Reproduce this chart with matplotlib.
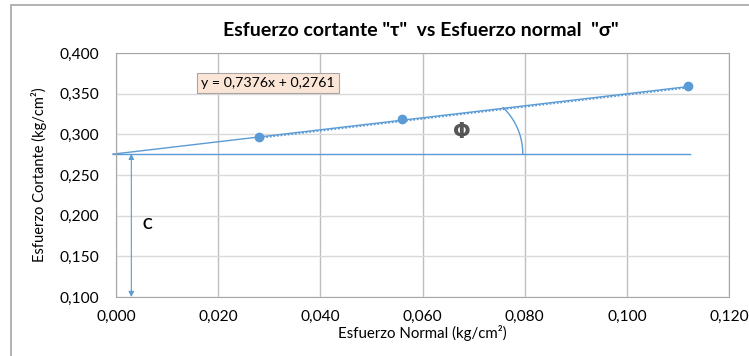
import numpy as np
import matplotlib.pyplot as plt
from matplotlib.patches import Rectangle

plt.rcParams['font.family'] = ['Lato', 'DejaVu Sans']

# datos de ensayo
esfuerzo_normal = [0.028, 0.056, 0.112]
esfuerzo_cortante = [0.297, 0.319, 0.359]
pendiente = 0.7376
cohesion = 0.2761

x_ticks = [0.0, 0.02, 0.04, 0.06, 0.08, 0.10, 0.12]
y_ticks = [0.10, 0.15, 0.20, 0.25, 0.30, 0.35, 0.40]

azul = '#5B9BD5'


def coma(v, pos=None):
    return f"{v:.3f}".replace('.', ',')


fig = plt.figure(figsize=(7.49, 3.56), dpi=100)
fig.patches.append(Rectangle((11 / 749, -0.5), 2, 0.5 + 351 / 356, transform=fig.transFigure,
                             fill=False, edgecolor='#A6A6A6', linewidth=1.2, zorder=0))
ax = fig.add_axes([116 / 749, 59 / 356, 613 / 749, 244 / 356])

ax.set_xlim(0, 0.12)
ax.set_ylim(0.1, 0.4)
ax.set_xticks(x_ticks)
ax.set_yticks(y_ticks)
ax.xaxis.set_major_formatter(coma)
ax.yaxis.set_major_formatter(coma)
ax.tick_params(length=0, labelsize=11.2)
ax.tick_params(axis='y', pad=12)
ax.tick_params(axis='x', pad=9)
ax.grid(axis='x', color='#BFBFBF', linewidth=1)
ax.grid(axis='y', color='#D9D9D9', linewidth=1)
ax.set_axisbelow(True)
for s in ax.spines.values():
    s.set_color('#A6A6A6')

# linea de tendencia (punteada) y linea de ajuste
xt = np.array([min(esfuerzo_normal), max(esfuerzo_normal)])
ax.plot(xt, pendiente * xt + cohesion - 0.0012, color=azul, linestyle=(0, (1, 1)), linewidth=1.3)
xl = np.array([-0.0006, max(esfuerzo_normal)])
ax.plot(xl, pendiente * xl + cohesion, color=azul, linewidth=1, clip_on=False)
ax.plot(esfuerzo_normal, esfuerzo_cortante, 'o', color=azul, markersize=6, zorder=5)

# horizontal de la cohesion
ax.plot([-0.0006, 0.1124], [cohesion, cohesion], color=azul, linewidth=1, clip_on=False)

# flecha C
ax.annotate('', xy=(0.003, 0.1), xytext=(0.003, cohesion),
            arrowprops=dict(arrowstyle='<|-|>', color=azul, lw=0.8, mutation_scale=8,
                            shrinkA=0, shrinkB=0))
ax.text(0.0061, 0.1885, 'C', fontsize=10.5, fontweight='bold', ha='center', va='center')

# arco del angulo
cx, rx, ry = 0.0671, 0.01253, 0.0787
t = np.radians(np.linspace(0, 46, 50))
ax.plot(cx + rx * np.cos(t), cohesion + ry * np.sin(t), color=azul, linewidth=1)
ax.text(0.0677, 0.3025, 'Φ', fontsize=15, fontweight='bold', color='#3A3A3A', alpha=0.85,
        ha='center', va='center', family=['DejaVu Sans'])

# ecuacion
ax.text(0.02976, 0.3631, 'y = 0,7376x + 0,2761', fontsize=10.2, ha='center', va='center',
        bbox=dict(boxstyle='square,pad=0.3', facecolor='#FBE5D6', edgecolor='#A6A6A6', linewidth=0.8))

ax.set_xlabel('Esfuerzo Normal (kg/cm²)', fontsize=10.8, labelpad=1)
ax.set_ylabel('Esfuerzo Cortante (kg/cm²)', fontsize=10.5, labelpad=9)
fig.text(421 / 749, 1 - 30 / 356, 'Esfuerzo cortante "τ"  vs Esfuerzo normal  "σ"',
         fontsize=14, fontweight='bold', ha='center', va='center')

fig.savefig('out.png', dpi=100)
